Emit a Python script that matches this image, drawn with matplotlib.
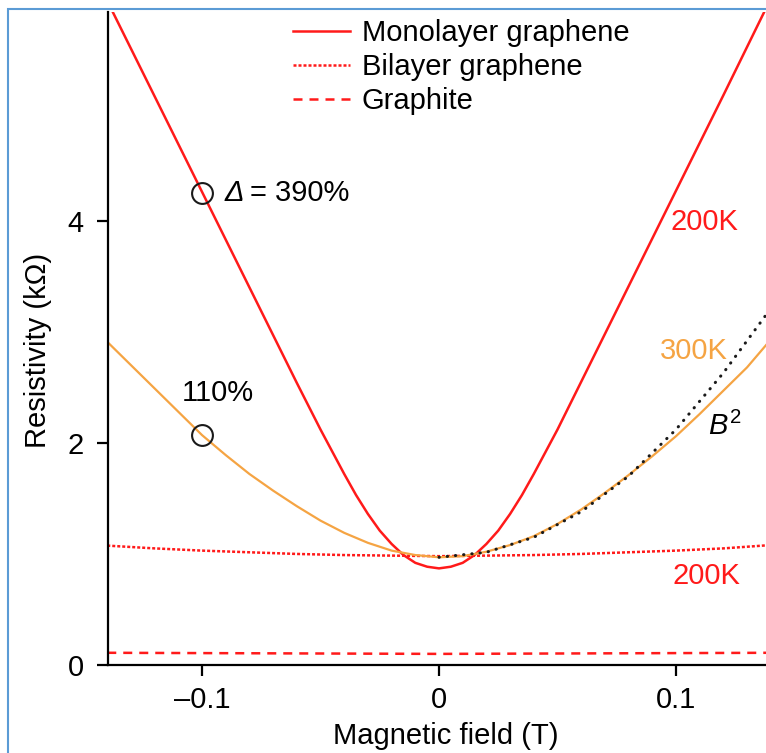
import matplotlib
matplotlib.use("Agg")
import matplotlib.pyplot as plt
from matplotlib.patches import Rectangle

# Data (field in T, resistivity in kOhm)
mono_B = [-0.14, -0.12, -0.10, -0.08, -0.06, -0.05, -0.045, -0.04, -0.035, -0.03,
          -0.025, -0.02, -0.015, -0.01, -0.005, 0.0, 0.005, 0.01, 0.015, 0.02,
          0.025, 0.03, 0.035, 0.04, 0.045, 0.05, 0.06, 0.08, 0.10, 0.12, 0.14]
mono_200K = [5.98, 5.12, 4.26, 3.40, 2.54, 2.12, 1.92, 1.72, 1.53, 1.36,
             1.21, 1.09, 0.99, 0.92, 0.885, 0.87, 0.885, 0.92, 0.99, 1.09,
             1.21, 1.36, 1.53, 1.72, 1.92, 2.12, 2.55, 3.41, 4.27, 5.13, 6.0]

mono300_B = [-0.14, -0.13, -0.12, -0.11, -0.10, -0.09, -0.08, -0.07, -0.06, -0.05,
             -0.04, -0.03, -0.02, -0.01, 0.0, 0.01, 0.02, 0.03, 0.04, 0.05,
             0.06, 0.07, 0.08, 0.09, 0.10, 0.11, 0.12, 0.13, 0.14]
mono_300K = [2.91, 2.70, 2.49, 2.28, 2.07, 1.89, 1.72, 1.57, 1.43, 1.30,
             1.19, 1.10, 1.03, 0.99, 0.97, 0.98, 1.02, 1.08, 1.16, 1.27,
             1.40, 1.55, 1.71, 1.88, 2.06, 2.26, 2.47, 2.68, 2.93]

b2_B = [0.0, 0.02, 0.04, 0.06, 0.08, 0.10, 0.12, 0.14]
b2_fit = [0.97, 1.015, 1.15, 1.38, 1.70, 2.12, 2.63, 3.21]

bi_B = [-0.14, -0.12, -0.10, -0.08, -0.06, -0.04, -0.02, 0.0, 0.02, 0.04, 0.06, 0.08, 0.10, 0.12, 0.14]
bilayer = [1.075, 1.05, 1.03, 1.015, 1.00, 0.99, 0.985, 0.98, 0.985, 0.99, 1.00, 1.015, 1.03, 1.05, 1.08]

gr_B = [-0.14, 0.0, 0.14]
graphite = [0.11, 0.10, 0.11]

circle_B = [-0.1, -0.1]
circle_R = [4.25, 2.07]

xticks = [-0.1, 0, 0.1]
xtick_labels = ["\u20130.1", "0", "0.1"]
yticks = [0, 2, 4]

red = "#ff1a1a"
orange = "#f5a443"
fs = 21

plt.rcParams["font.family"] = ["Liberation Sans", "DejaVu Sans"]
plt.rcParams["mathtext.fontset"] = "custom"
plt.rcParams["mathtext.rm"] = "Liberation Sans"
plt.rcParams["mathtext.it"] = "Liberation Sans:italic"

fig = plt.figure(figsize=(7.66, 7.53), dpi=100)
ax = fig.add_axes([107.5 / 766, 88 / 753, (766 - 107.5) / 766, 653 / 753])

ax.plot(mono_B, mono_200K, color=red, lw=1.8, label="Monolayer graphene")
ax.plot(bi_B, bilayer, color=red, lw=1.8, linestyle=(0, (1.2, 0.8)), label="Bilayer graphene")
ax.plot(gr_B, graphite, color=red, lw=1.8, linestyle=(0, (3.6, 2.8)), label="Graphite")
ax.plot(mono300_B, mono_300K, color=orange, lw=1.6)
ax.plot(b2_B, b2_fit, color="#1a1a1a", lw=2.2, linestyle=(0, (0.1, 2.6)),
        dash_capstyle="round")
ax.plot(circle_B, circle_R, linestyle="none", marker="o", ms=15,
        mfc="none", mec="#1a1a1a", mew=1.5)

ax.text(-0.0905, 4.25, "\u0394", fontsize=fs, style="italic", ha="left", va="center")
ax.text(-0.0797, 4.25, "= 390%", fontsize=fs, ha="left", va="center")
ax.text(-0.0932, 2.45, "110%", fontsize=fs, ha="center", va="center")
ax.text(0.1122, 3.99, "200K", fontsize=fs, ha="center", va="center", color=red)
ax.text(0.1076, 2.83, "300K", fontsize=fs, ha="center", va="center", color=orange)
ax.text(0.1207, 2.15, r"$\mathit{B}^2$", fontsize=fs, ha="center", va="center")
ax.text(0.1127, 0.80, "200K", fontsize=fs, ha="center", va="center", color=red)

ax.set_xlim(-0.1399, 0.138)
ax.set_ylim(0, 5.88)
ax.set_xticks(xticks)
ax.set_xticklabels(xtick_labels)
ax.set_yticks(yticks)
ax.tick_params(direction="out", length=8, width=1.6, labelsize=fs)
ax.tick_params(axis="x", pad=7)
ax.tick_params(axis="y", pad=9)
for s in ["top", "right"]:
    ax.spines[s].set_visible(False)
for s in ["left", "bottom"]:
    ax.spines[s].set_linewidth(1.6)

ax.set_xlabel("Magnetic field (T)", fontsize=fs)
ax.set_ylabel("Resistivity (k\u03a9)", fontsize=fs)
ax.xaxis.set_label_coords(0.514, -0.087)
ax.yaxis.set_label_coords(-0.084, 0.482)

ax.legend(loc="upper left", bbox_to_anchor=(0.2817, 0.989), frameon=False,
          fontsize=fs, borderpad=0, borderaxespad=0, handlelength=1.95,
          handletextpad=0.4, labelspacing=0.2)

# light blue frame round the panel (left and top edges visible)
fig.patches.append(Rectangle((8 / 766, -0.5), 2.0, 0.5 + 1 - 9 / 753,
                             transform=fig.transFigure, fill=False,
                             edgecolor="#5b9bd5", lw=1.5))

fig.savefig("out.png", dpi=100)
